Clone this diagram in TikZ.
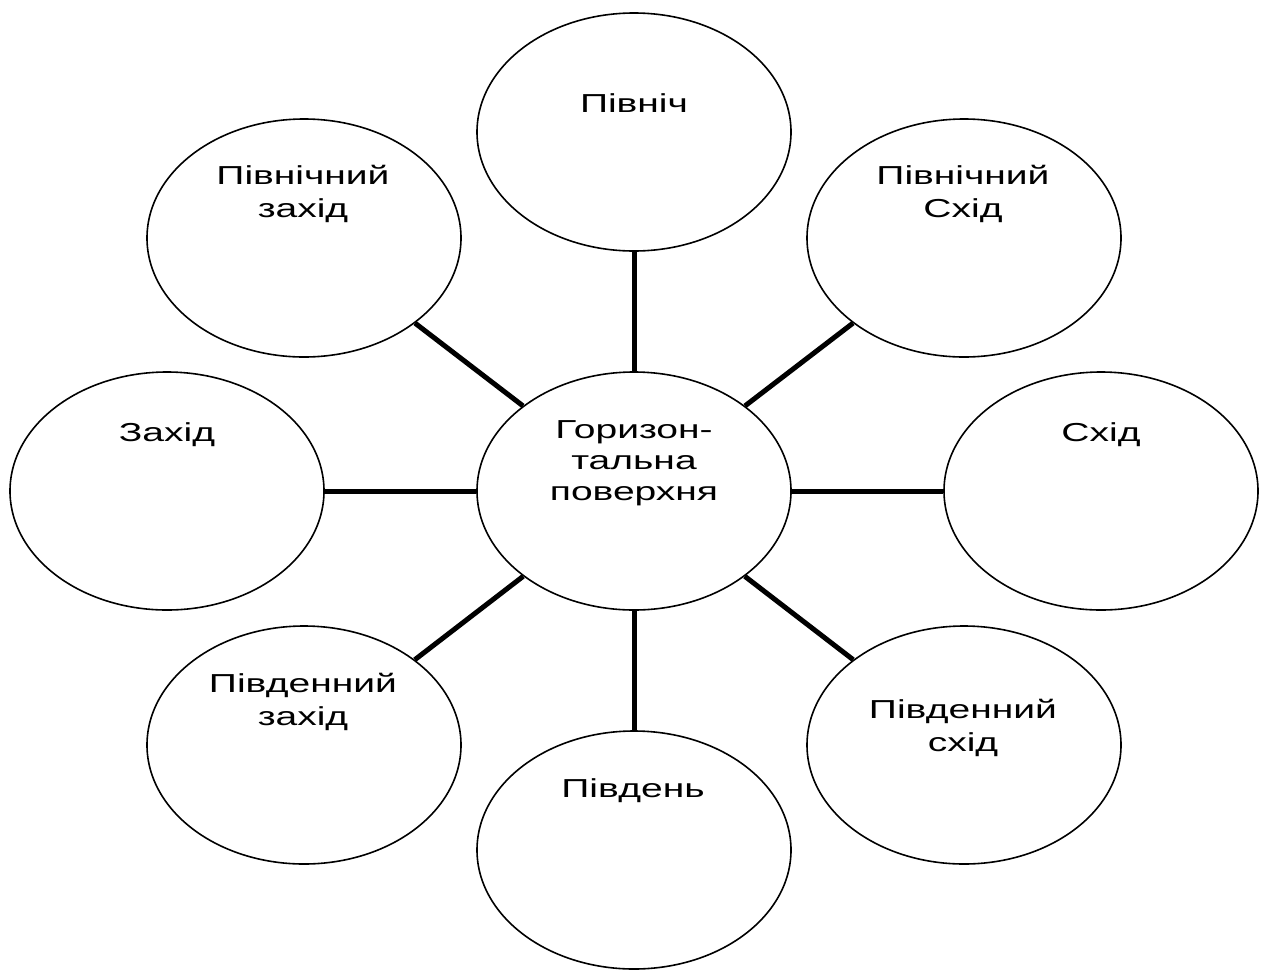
\documentclass[tikz,border=0pt]{standalone}
\usepackage{fontspec}
\setmainfont{Liberation Sans}[FakeStretch=1.5]
\usetikzlibrary{shapes.geometric}
\begin{document}
\begin{tikzpicture}[x=1pt,y=-1pt,
  bubble/.style={ellipse,draw=black,line width=1.6pt,minimum width=314pt,minimum height=238pt,inner sep=0pt,fill=white},
  lbl/.style={anchor=north,align=center,inner sep=0pt,font=\fontsize{26}{33}\selectfont},
  link/.style={line width=5pt,black}]
\useasboundingbox (0,0) rectangle (1263,970);
\node[bubble] (c)  at (634,491) {};
\node[bubble] (n)  at (634,132) {};
\node[bubble] (s)  at (634,850) {};
\node[bubble] (w)  at (167,491) {};
\node[bubble] (e)  at (1101,491) {};
\node[bubble] (nw) at (304,238) {};
\node[bubble] (ne) at (964,238) {};
\node[bubble] (sw) at (304,745) {};
\node[bubble] (se) at (964,745) {};
\foreach \t in {n,s,w,e,nw,ne,sw,se} \draw[link] (c) -- (\t);
\node[lbl] (tn)  at (634,93)  {Північ};
\node[lbl] (tnw) at (303,165) {Північний\\захід};
\node[lbl] (tne) at (963,165) {Північний\\Схід};
\node[lbl] (tw)  at (167,422) {Захід};
\node[lbl,font=\fontsize{26}{31}\selectfont] (tc) at (634,420) {Горизон-\\тальна\\поверхня};
\node[lbl] (te)  at (1101,422) {Схід};
\node[lbl] (tsw) at (303,673) {Південний\\захід};
\node[lbl] (tse) at (963,699) {Південний\\схід};
\node[lbl] (ts)  at (633,778) {Південь};
\end{tikzpicture}
\end{document}
